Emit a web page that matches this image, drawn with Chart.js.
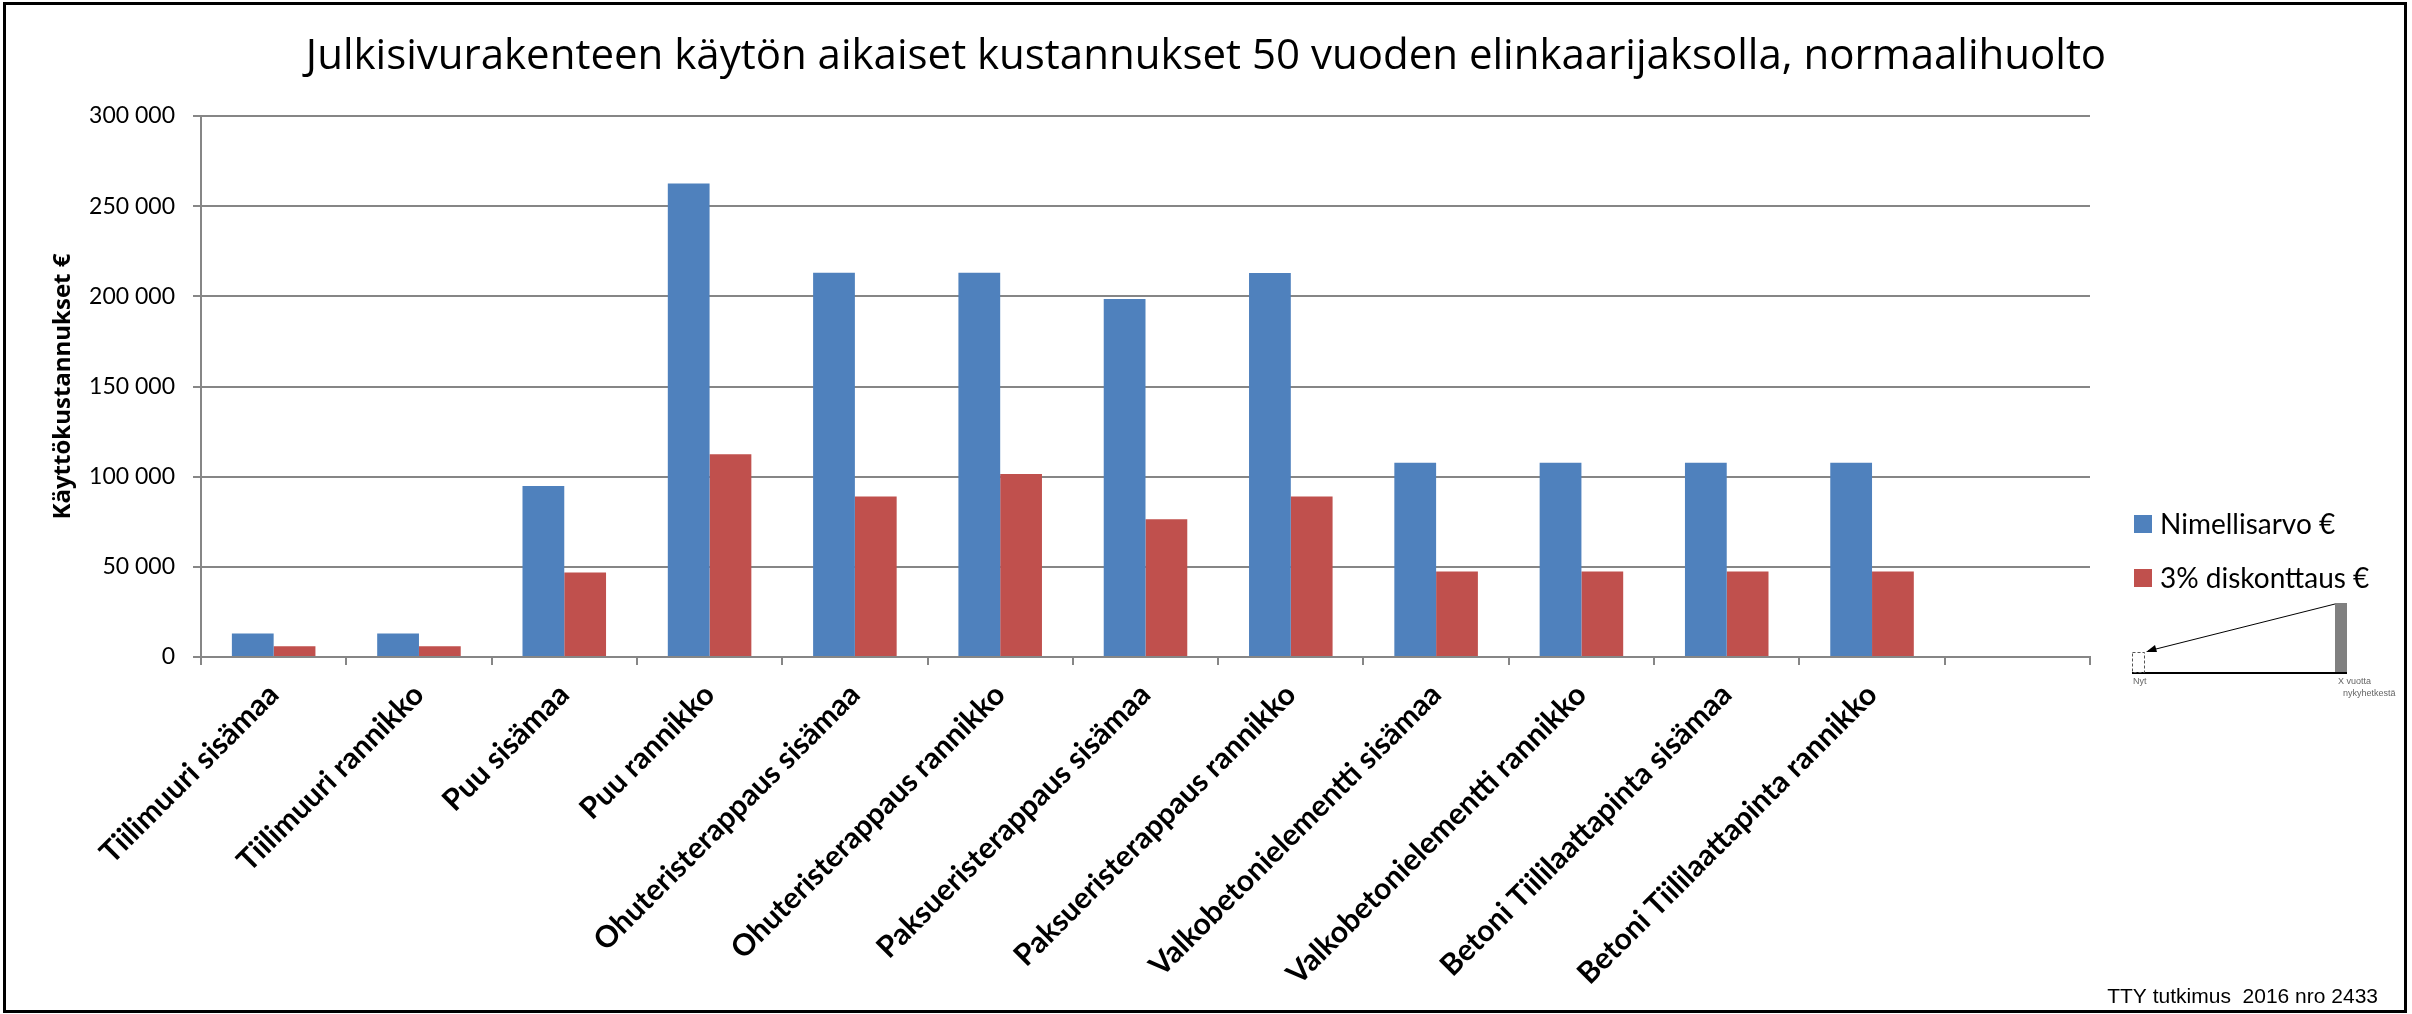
<!DOCTYPE html>
<html>
<head>
<meta charset="utf-8">
<script src="https://cdn.jsdelivr.net/npm/chart.js@4.4.0/dist/chart.umd.min.js"></script>
<style>
  html, body { margin: 0; padding: 0; background: #fff; }
  #wrap { width: 2412px; height: 1014px; }
</style>
</head>
<body>
<div id="wrap"><canvas id="costChart" width="2412" height="1014"></canvas></div>
<script>
const categories = [
    'Tiilimuuri sisämaa',
    'Tiilimuuri rannikko',
    'Puu sisämaa',
    'Puu rannikko',
    'Ohuteristerappaus sisämaa',
    'Ohuteristerappaus rannikko',
    'Paksueristerappaus sisämaa',
    'Paksueristerappaus rannikko',
    'Valkobetonielementti sisämaa',
    'Valkobetonielementti rannikko',
    'Betoni Tiililaattapinta sisämaa',
    'Betoni Tiililaattapinta rannikko',
    ''
];
const nominalValues = [13100, 13100, 94800, 262600, 213100, 213100, 198500, 213000, 107700, 107700, 107700, 107700, null];
const discountedValues = [6000, 6000, 46800, 112400, 89000, 101500, 76400, 89000, 47400, 47400, 47400, 47400, null];
const seriesNames = ['Nimellisarvo €', '3% diskonttaus €'];
const seriesColors = ['#4F81BD', '#C0504D'];
const yTickValues = [0, 50000, 100000, 150000, 200000, 250000, 300000];
const chartTitle = 'Julkisivurakenteen käytön aikaiset kustannukset 50 vuoden elinkaarijaksolla, normaalihuolto';
const yAxisTitle = 'Käyttökustannukset €';
const footerText = 'TTY tutkimus  2016 nro 2433';
const insetLabels = ['Nyt', 'X vuotta', 'nykyhetkestä'];

function formatThousands(v) {
    return String(v).replace(/\B(?=(\d{3})+(?!\d))/g, ' ');
}

// legend, inset sketch, footer and frame
const decorPlugin = {
    id: 'decor',
    afterDraw(chart) {
        const ctx = chart.ctx;
        ctx.save();

        // outer frame
        ctx.strokeStyle = '#000';
        ctx.lineWidth = 3;
        ctx.strokeRect(4.5, 3.5, 2401, 1008);

        // legend
        ctx.font = '28px Lato';
        ctx.textBaseline = 'middle';
        ctx.textAlign = 'left';
        chart.data.datasets.forEach((ds, i) => {
            const cy = 524 + i * 54;
            ctx.fillStyle = ds.backgroundColor;
            ctx.fillRect(2134, cy - 9, 18, 18);
            ctx.fillStyle = '#000';
            ctx.fillText(ds.label, 2160, cy + 1);
        });

        // small discounting sketch under the legend
        ctx.fillStyle = '#808080';
        ctx.fillRect(2335, 603, 12, 70);
        ctx.strokeStyle = '#000';
        ctx.lineWidth = 2;
        ctx.beginPath();
        ctx.moveTo(2132, 673);
        ctx.lineTo(2347, 673);
        ctx.stroke();
        ctx.setLineDash([3, 2]);
        ctx.lineWidth = 1;
        ctx.strokeStyle = '#555';
        ctx.strokeRect(2132.5, 652.5, 12, 20);
        ctx.setLineDash([]);
        ctx.strokeStyle = '#000';
        ctx.beginPath();
        ctx.moveTo(2335, 604);
        ctx.lineTo(2148, 651);
        ctx.stroke();
        ctx.beginPath();
        ctx.moveTo(2146, 652);
        ctx.lineTo(2155, 645);
        ctx.lineTo(2157, 652);
        ctx.closePath();
        ctx.fillStyle = '#000';
        ctx.fill();
        ctx.fillStyle = '#666';
        ctx.font = '9px "Liberation Sans"';
        ctx.textBaseline = 'alphabetic';
        ctx.fillText(insetLabels[0], 2133, 684);
        ctx.fillText(insetLabels[1], 2338, 684);
        ctx.fillText(insetLabels[2], 2343, 696);

        // footer
        ctx.fillStyle = '#000';
        ctx.font = '21px "Liberation Sans"';
        ctx.textAlign = 'right';
        ctx.fillText(footerText, 2378, 1003);

        ctx.restore();
    }
};

function draw() {
    const ctx = document.getElementById('costChart').getContext('2d');
    new Chart(ctx, {
        type: 'bar',
        data: {
            labels: categories,
            datasets: [{
                label: seriesNames[0],
                data: nominalValues,
                backgroundColor: seriesColors[0],
                categoryPercentage: 0.575,
                barPercentage: 1.0
            },
            {
                label: seriesNames[1],
                data: discountedValues,
                backgroundColor: seriesColors[1],
                categoryPercentage: 0.575,
                barPercentage: 1.0
            }]
        },
        options: {
            responsive: false,
            devicePixelRatio: 1,
            animation: false,
            layout: {
                padding: 0
            },
            plugins: {
                legend: { display: false },
                tooltip: { enabled: false },
                title: {
                    display: true,
                    text: chartTitle,
                    color: '#000',
                    font: { family: '"Open Sans"', size: 42, weight: 'normal', lineHeight: 1.2 },
                    padding: { top: 32, bottom: 33.6 }
                }
            },
            scales: {
                x: {
                    afterFit(scale) { scale.height = 357; },
                    grid: {
                        offset: true,
                        drawOnChartArea: false,
                        drawTicks: true,
                        tickLength: 8,
                        color: '#868686',
                        lineWidth: 2
                    },
                    border: { color: '#868686', width: 2 },
                    ticks: {
                        autoSkip: false,
                        minRotation: 45,
                        maxRotation: 45,
                        padding: 12,
                        color: '#000',
                        font: { family: 'Lato', size: 30, weight: 'bold' }
                    }
                },
                y: {
                    min: 0,
                    max: 300000,
                    afterFit(scale) { scale.width = 201; },
                    afterBuildTicks(scale) { scale.ticks = yTickValues.map(v => ({ value: v })); },
                    grid: {
                        color: '#868686',
                        lineWidth: 2,
                        tickLength: 8
                    },
                    border: { color: '#868686', width: 2 },
                    ticks: {
                        padding: 18,
                        color: '#000',
                        font: { family: 'Lato', size: 23 },
                        callback: v => formatThousands(v)
                    },
                    title: {
                        display: true,
                        text: yAxisTitle,
                        color: '#000',
                        font: { family: '"Open Sans"', size: 24, weight: 'bold', lineHeight: 1.2 },
                        padding: { top: 48.6, bottom: 0 }
                    }
                },
                // empty right-hand axis only keeps room for the legend area
                legendSpace: {
                    type: 'linear',
                    position: 'right',
                    display: true,
                    afterFit(scale) { scale.width = 322; },
                    grid: { display: false },
                    border: { display: false },
                    ticks: { display: false }
                }
            }
        },
        plugins: [decorPlugin]
    });
}

Promise.all([
    document.fonts.load('42px "Open Sans"'),
    document.fonts.load('bold 24px "Open Sans"'),
    document.fonts.load('bold 30px Lato'),
    document.fonts.load('23px Lato'),
    document.fonts.load('21px "Liberation Sans"')
]).then(draw, draw);
</script>
</body>
</html>
